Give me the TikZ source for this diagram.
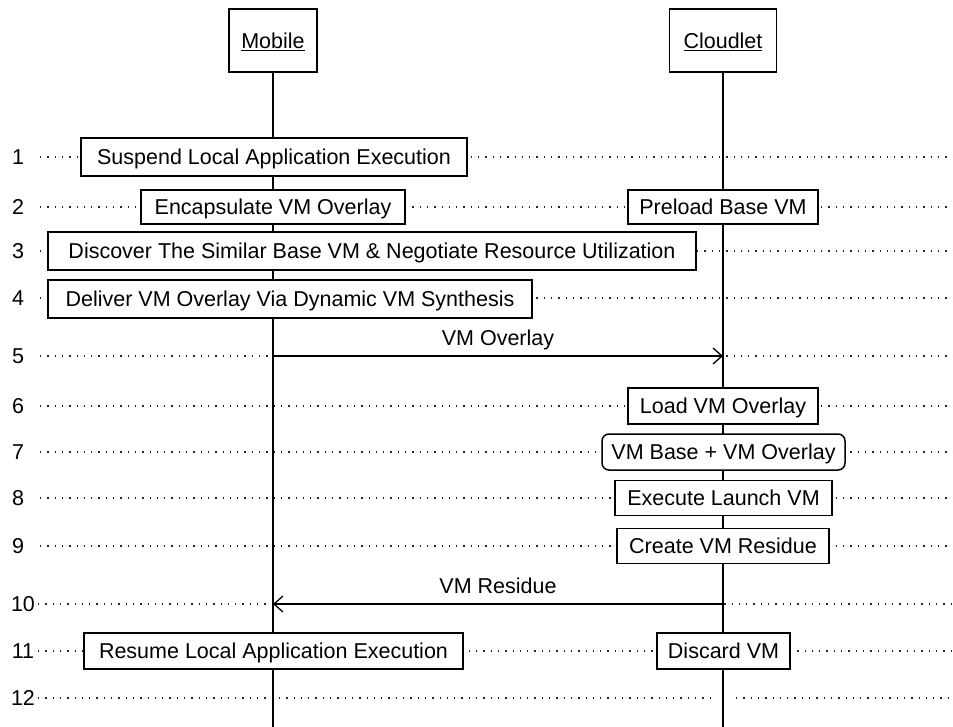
\documentclass[tikz,border=0pt]{standalone}
\usepackage{fontspec}
\setmainfont{Liberation Sans}
\usetikzlibrary{arrows.meta}
\begin{document}
\begin{tikzpicture}[x=1pt,y=-1pt]
\tikzset{
  txt/.style={font=\fontsize{21.5}{25}\selectfont, inner sep=0pt, text height=15.4pt, text depth=0pt},
  sbox/.style={txt, draw, line width=1.5pt, fill=white},
  head/.style={sbox, minimum width=#1, minimum height=63pt},
  dotline/.style={line width=1.3pt, black!85, dash pattern=on 1.3pt off 6pt},
  life/.style={line width=1.4pt},
  msg/.style={line width=1.4pt, -{Straight Barb[length=9pt,width=16pt,line width=1.3pt]}},
}
\useasboundingbox (0,0) rectangle (953,727);
% heads
\node[head=88pt] (mob) at (273,40.5) {\underline{Mobile}};
\node[head=107pt] (cld) at (723,40.5) {\underline{Cloudlet}};
\coordinate (mobbot) at (273,727);
\coordinate (cldbot) at (723,727);
% row numbers and dotted guides
\foreach \i/\y/\nx/\lx in {1/157/18/40, 2/207/18/40, 3/251/18/40, 4/298/18/40, 5/356/18/40,
  6/406/18/40, 7/452/18/40, 8/498/18/40, 9/546/18/40, 10/604/23/38, 11/651/23/38, 12/698/23/38} {
  \node[txt] (n\i) at (\nx,\y) {\i};
  \coordinate (l\i) at (\lx,\y);
  \coordinate (e\i) at (953,\y);
}
\foreach \i in {1,...,11} { \draw[dotline] (l\i) -- (e\i); }
\coordinate (g1) at (713,698);
\coordinate (g2) at (736,698);
\draw[dotline] (l12) -- (g1);
\draw[dotline] (g2) -- (e12);
% lifelines
\draw[life] (mob.south) -- (mobbot);
\draw[life] (cld.south) -- (cldbot);
% messages
\coordinate (m5) at (273,356);
\coordinate (c5) at (723,356);
\coordinate (m10) at (273,604);
\coordinate (c10) at (723,604);
\draw[msg] (m5) -- (c5) node[txt, midway, above=10pt] (lab5) {VM Overlay};
\draw[msg] (c10) -- (m10) node[txt, midway, above=10pt] (lab10) {VM Residue};
% activity boxes
\node[sbox, minimum width=386pt, minimum height=38pt] (b1) at (274,157) {Suspend Local Application Execution};
\node[sbox, minimum width=264pt, minimum height=34pt] (b2a) at (273,207) {Encapsulate VM Overlay};
\node[sbox, minimum width=190pt, minimum height=34pt] (b2b) at (723,207) {Preload Base VM};
\node[sbox, minimum width=648pt, minimum height=38pt] (b3) at (372,251) {Discover The Similar Base VM \& Negotiate Resource Utilization};
\node[sbox, minimum width=484pt, minimum height=38pt] (b4) at (290,299) {Deliver VM Overlay Via Dynamic VM Synthesis};
\node[sbox, minimum width=190pt, minimum height=36pt] (b6) at (723,406) {Load VM Overlay};
\node[sbox, rounded corners=7pt, minimum width=243pt, minimum height=36pt] (b7) at (723.5,452) {VM Base + VM Overlay};
\node[sbox, minimum width=217pt, minimum height=35pt] (b8) at (723.5,498) {Execute Launch VM};
\node[sbox, minimum width=212pt, minimum height=35pt] (b9) at (723,546) {Create VM Residue};
\node[sbox, minimum width=379pt, minimum height=36pt] (b11a) at (273.5,651) {Resume Local Application Execution};
\node[sbox, minimum width=133pt, minimum height=36pt] (b11b) at (723.5,651) {Discard VM};
\end{tikzpicture}
\end{document}
